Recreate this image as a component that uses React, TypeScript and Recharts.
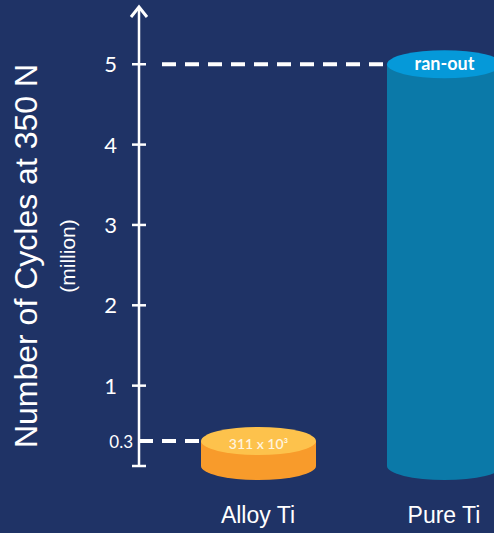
import React from 'react';
import { BarChart, Bar, XAxis, YAxis } from 'recharts';

const categories = ['Alloy Ti', 'Pure Ti'];
const cyclesMillion = [0.311, 5];
const capLabels = ['311 x 10³', 'ran-out'];
const yTicks = [0, 0.3, 1, 2, 3, 4, 5];

const data = categories.map((name, i) => ({
  name,
  cycles: cyclesMillion[i],
  cap: capLabels[i],
}));

const BG = '#1F3366';
const AXIS_X = 139;
const PLOT_TOP = 8;
const RY = 14;
const LABEL_BASELINE = 523;

const looks = [
  { top: '#FDC24C', side: '#F89B2B', text: '#FFF3DC', size: 14, weight: 600, dy: 8 },
  { top: '#0599D9', side: '#0B79A8', text: '#FFFFFF', size: 18, weight: 700, dy: 6 },
];
// where each dashed guide starts, measured from the axis
const dashStart = [0, 23];

const Cylinder = (props: any) => {
  const { x, y, width, height, payload } = props;
  const i = categories.indexOf(payload.name);
  const c = looks[i];
  const rx = width / 2;
  const cx = x + rx;
  const yb = y + height;
  return (
    <g>
      <line
        x1={AXIS_X + dashStart[i]}
        x2={x}
        y1={y}
        y2={y}
        stroke="#fff"
        strokeWidth={4}
        strokeDasharray="14 9"
      />
      <path
        d={`M${x},${y} L${x},${yb} A${rx},${RY} 0 0 0 ${x + width},${yb} L${x + width},${y} Z`}
        fill={c.side}
      />
      <ellipse cx={cx} cy={y} rx={rx} ry={RY} fill={c.top} />
      <text
        x={cx}
        y={y + c.dy}
        textAnchor="middle"
        fill={c.text}
        fontSize={c.size}
        fontWeight={c.weight}
        fontFamily="Lato, sans-serif"
      >
        {payload.cap}
      </text>
    </g>
  );
};

const YTick = (props: any) => {
  const { y, payload } = props;
  const v = payload.value;
  if (v === 0) {
    return <line x1={AXIS_X - 7} x2={AXIS_X + 7} y1={y} y2={y} stroke="#fff" strokeWidth={2.5} />;
  }
  const small = v < 1;
  return (
    <g>
      {!small && <line x1={AXIS_X - 7} x2={AXIS_X + 7} y1={y} y2={y} stroke="#fff" strokeWidth={2.5} />}
      <text
        x={small ? AXIS_X - 6 : AXIS_X - 22}
        y={y}
        dy="0.36em"
        textAnchor="end"
        fill="#fff"
        fontSize={small ? 17 : 22}
        fontFamily="Lato, sans-serif"
      >
        {v}
      </text>
    </g>
  );
};

const XTick = (props: any) => {
  const { x, payload } = props;
  return (
    <text
      x={x}
      y={LABEL_BASELINE}
      textAnchor="middle"
      fill="#fff"
      fontSize={23}
      fontFamily="'Liberation Sans', Arial, sans-serif"
    >
      {payload.value}
    </text>
  );
};

const AxisDecor = () => (
  <g>
    <polyline
      points={`${AXIS_X - 8},${PLOT_TOP + 9} ${AXIS_X},${PLOT_TOP - 1} ${AXIS_X + 8},${PLOT_TOP + 9}`}
      fill="none"
      stroke="#fff"
      strokeWidth={3}
    />
    <text
      transform="translate(37,256) rotate(-90)"
      textAnchor="middle"
      fill="#fff"
      fontSize={32}
      fontFamily="'Liberation Sans', Arial, sans-serif"
    >
      Number of Cycles at 350 N
    </text>
    <text
      transform="translate(75,256) rotate(-90)"
      textAnchor="middle"
      fill="#fff"
      fontSize={21}
      fontFamily="'Liberation Sans', Arial, sans-serif"
    >
      (million)
    </text>
  </g>
);

export default function App() {
  return (
    <div
      style={{
        position: 'fixed',
        left: 0,
        top: 0,
        width: 494,
        height: 533,
        overflow: 'hidden',
        background: BG,
      }}
    >
      <BarChart
        width={560}
        height={533}
        data={data}
        margin={{ top: PLOT_TOP, right: 23, bottom: 0, left: 0 }}
      >
        <XAxis
          dataKey="name"
          axisLine={false}
          tickLine={false}
          height={67}
          padding={{ left: 26, right: 0 }}
          tick={<XTick />}
          interval={0}
        />
        <YAxis
          width={139}
          domain={[0, 5.7]}
          ticks={yTicks}
          interval={0}
          axisLine={{ stroke: '#fff', strokeWidth: 2.5 }}
          tickLine={false}
          tick={<YTick />}
          label={<AxisDecor />}
        />
        <Bar dataKey="cycles" barSize={115} shape={<Cylinder />} isAnimationActive={false} />
      </BarChart>
    </div>
  );
}
